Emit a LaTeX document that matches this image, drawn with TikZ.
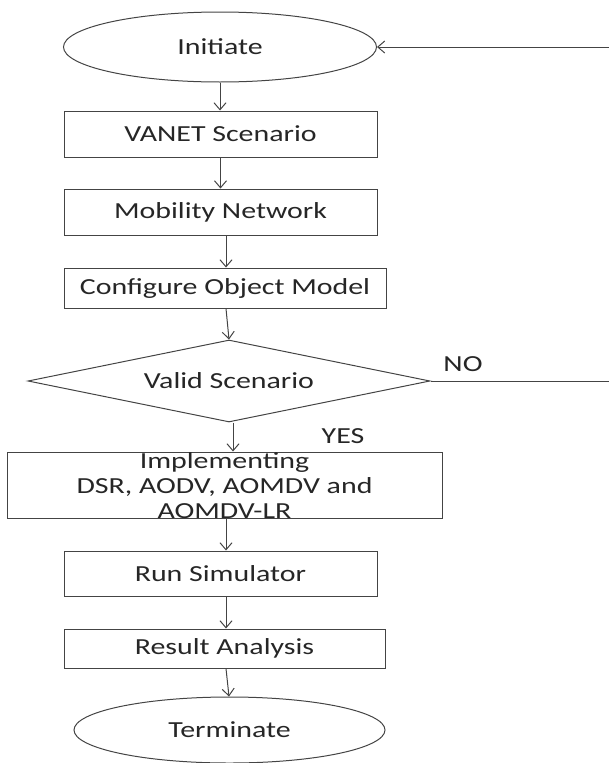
\documentclass[tikz,border=0pt]{standalone}
\usepackage{fontspec}
\setmainfont{Carlito}[FakeStretch=1.3]
\usetikzlibrary{shapes.geometric,arrows.meta}
\definecolor{ln}{HTML}{444444}
\definecolor{tx}{HTML}{262626}
\tikzset{
  boxnode/.style={draw=ln, line width=1pt, rectangle, inner sep=0pt, text=tx, font=\fontsize{23}{25}\selectfont},
  ovalnode/.style={draw=ln, line width=1pt, ellipse, inner sep=0pt, text=tx, font=\fontsize{23}{25}\selectfont},
  decnode/.style={draw=ln, line width=1pt, diamond, aspect=4.9, inner sep=0pt, text=tx, font=\fontsize{23}{25}\selectfont},
  lbl/.style={text=tx, font=\fontsize{23}{25}\selectfont, inner sep=0pt},
  arr/.style={draw=ln, line width=1pt, -{Straight Barb[length=7pt,width=12pt]}}
}
\begin{document}
\begin{tikzpicture}[x=1pt,y=-1pt]
\useasboundingbox (0,0) rectangle (608,763);
\node[ovalnode, minimum width=313, minimum height=70] (init) at (220,47) {Initiate};
\node[boxnode, minimum width=313, minimum height=46] (vanet) at (220.5,134) {VANET Scenario};
\node[boxnode, minimum width=313, minimum height=46] (mob) at (220.5,212) {Mobility Network};
\node[boxnode, minimum width=322, minimum height=40] (conf) at (225,288) {Configure Object Model};
\node[decnode, minimum width=402, minimum height=82] (dia) at (229,381) {Valid Scenario};
\node[boxnode, minimum width=435, minimum height=66,
  label={[lbl, align=center, yshift=-1pt]center:Implementing\\DSR, AODV, AOMDV and\\AOMDV-LR}] (impl) at (224.5,485) {};
\node[boxnode, minimum width=313, minimum height=45] (run) at (220.5,573.5) {Run Simulator};
\node[boxnode, minimum width=321, minimum height=39] (res) at (224.5,648.5) {Result Analysis};
\node[ovalnode, minimum width=311, minimum height=66] (term) at (229.5,730) {Terminate};
\node[lbl] (no) at (463,364) {NO};
\node[lbl] (yes) at (343,436) {YES};
\coordinate (loop) at (625,381);
\draw[arr] (init.south) -- (init.south |- vanet.north);
\draw[arr] (vanet.south) -- (vanet.south |- mob.north);
\draw[arr] ([xshift=5.5pt]mob.south) -- ([xshift=5.5pt]mob.south |- conf.north);
\draw[arr] ([xshift=1pt]conf.south) -- (dia.north);
\draw[arr] ([xshift=4pt]dia.south) -- ([xshift=4pt]dia.south |- impl.north);
\draw[arr] ([xshift=1.5pt]impl.south) -- ([xshift=1.5pt]impl.south |- run.north);
\draw[arr] ([xshift=5.5pt]run.south) -- ([xshift=5.5pt]run.south |- res.north);
\draw[arr] ([xshift=1.5pt]res.south) -- ([xshift=-0.5pt]term.north);
\draw[arr] (dia.east) -- (loop) |- (init.east);
\end{tikzpicture}
\end{document}
